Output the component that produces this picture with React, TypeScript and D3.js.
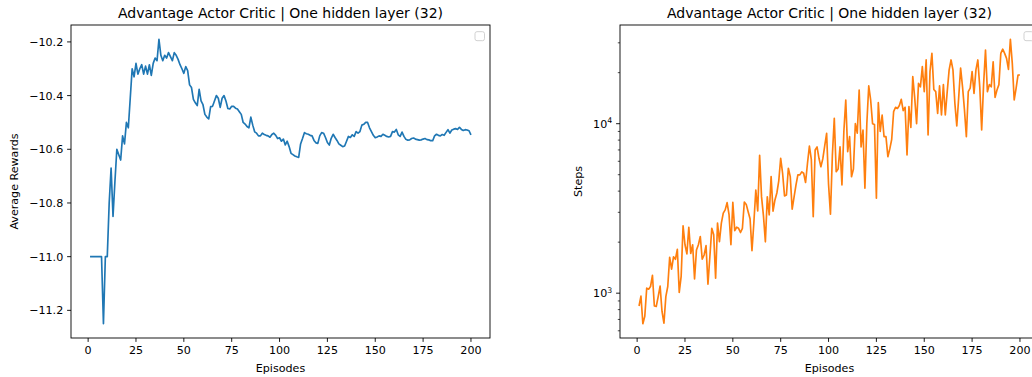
import React from "react";
import * as d3 from "d3";

const TITLE = "Advantage Actor Critic | One hidden layer (32)";

const AVG_REWARDS = [
  -11.0, -11.0, -11.0, -11.0, -11.0, -11.0, -11.0, -11.25, -11.0, -11.0,
  -10.80, -10.67, -10.85, -10.72, -10.60, -10.62, -10.64, -10.55, -10.58, -10.50,
  -10.52, -10.41, -10.30, -10.33, -10.28, -10.32, -10.30, -10.285, -10.32, -10.29,
  -10.32, -10.285, -10.325, -10.28, -10.26, -10.27, -10.19, -10.25, -10.27, -10.25,
  -10.26, -10.24, -10.255, -10.27, -10.24, -10.25, -10.265, -10.285, -10.30, -10.317,
  -10.292, -10.307, -10.36, -10.37, -10.414, -10.427, -10.437, -10.377, -10.42, -10.434,
  -10.47, -10.48, -10.487, -10.441, -10.44, -10.42, -10.40, -10.41, -10.444, -10.41,
  -10.40, -10.42, -10.448, -10.45, -10.44, -10.44, -10.447, -10.45, -10.46, -10.47,
  -10.50, -10.506, -10.515, -10.52, -10.48, -10.51, -10.535, -10.54, -10.55, -10.55,
  -10.54, -10.545, -10.548, -10.55, -10.555, -10.545, -10.54, -10.548, -10.56, -10.557,
  -10.57, -10.562, -10.584, -10.57, -10.59, -10.615, -10.62, -10.625, -10.628, -10.63,
  -10.58, -10.56, -10.538, -10.542, -10.544, -10.548, -10.55, -10.567, -10.576, -10.578,
  -10.55, -10.538, -10.54, -10.556, -10.575, -10.584, -10.559, -10.544, -10.556, -10.567,
  -10.58, -10.585, -10.59, -10.588, -10.57, -10.552, -10.556, -10.546, -10.552, -10.534,
  -10.54, -10.534, -10.51, -10.507, -10.50, -10.50, -10.52, -10.534, -10.548, -10.557,
  -10.554, -10.55, -10.552, -10.544, -10.548, -10.552, -10.554, -10.552, -10.534, -10.536,
  -10.526, -10.546, -10.552, -10.536, -10.552, -10.563, -10.566, -10.565, -10.56, -10.558,
  -10.562, -10.564, -10.566, -10.565, -10.562, -10.56, -10.564, -10.565, -10.568, -10.568,
  -10.55, -10.544, -10.548, -10.55, -10.545, -10.548, -10.537, -10.527, -10.54, -10.528,
  -10.525, -10.523, -10.526, -10.518, -10.526, -10.53, -10.527, -10.528, -10.531, -10.546,
];

const STEPS = [
  840, 960, 660, 730, 1070, 1055, 1095, 1275, 840, 835,
  955, 1100, 780, 665, 955, 1095, 1630, 1385, 1640, 1585,
  1815, 1010, 1255, 2500, 1930, 1705, 2450, 1715, 1930, 1215,
  1800, 1930, 2160, 1585, 1680, 1910, 1130, 1640, 2415, 2210,
  1225, 2590, 2015, 2590, 2965, 3100, 3420, 2920, 1930, 3430,
  2340, 2450, 2415, 2280, 2415, 3450, 3340, 3020, 2750, 1780,
  2620, 4060, 3060, 6500, 3700, 2860, 2010, 3700, 2900, 4870,
  3050, 3550, 3900, 4600, 6250, 5100, 3750, 3800, 5460, 4870,
  3130, 3700, 4350, 5000, 4990, 5200, 5100, 4500, 5840, 7380,
  6165, 2830, 7000, 7300, 6250, 5570, 6200, 7400, 8775, 4400,
  2925, 6500, 10760, 5210, 5400, 7300, 4350, 9000, 13800, 6830,
  8380, 4865, 5400, 10000, 8800, 15800, 7300, 9180, 4160, 10000,
  16700, 13800, 10000, 9900, 3630, 13300, 9000, 11250, 8380, 8380,
  6385, 7100, 8090, 11770, 12500, 12300, 12800, 13930, 11950, 12500,
  6535, 12600, 9500, 18940, 14300, 10000, 17300, 16500, 21700, 15450,
  23770, 8580, 20270, 26000, 15900, 15450, 11500, 16700, 11250, 17000,
  11250, 15450, 20760, 23770, 20760, 13190, 9690, 14300, 21300, 16500,
  12100, 8380, 15450, 16200, 20270, 15100, 20760, 23770, 16500, 9180,
  17000, 27200, 15450, 17000, 16500, 23200, 14300, 15800, 17000, 26000,
  27500, 26000, 24300, 20900, 31500, 22700, 13800, 16200, 19380, 19380,
];

const X_TICKS = [0, 25, 50, 75, 100, 125, 150, 175, 200];
const REWARD_TICKS = [-11.2, -11.0, -10.8, -10.6, -10.4, -10.2];
const STEP_MAJOR_TICKS = [1000, 10000];
const STEP_MINOR_TICKS = [600, 700, 800, 900, 2000, 3000, 4000, 5000, 6000, 7000, 8000, 9000, 20000, 30000];

const FONT = "DejaVu Sans, sans-serif";
const TICK_FS = 11.1;
const TITLE_FS = 14;
const TOP = 25;
const BOTTOM = 338;
const LEFT_AX = { x0: 71, x1: 490 };
const RIGHT_AX = { x0: 620, x1: 1039 };

function pad(ext: [number, number]): [number, number] {
  const m = (ext[1] - ext[0]) * 0.05;
  return [ext[0] - m, ext[1] + m];
}

const fmtMinus = (v: number, digits: number) => {
  const s = v.toFixed(digits);
  return s.replace("-", "\u2212");
};

function XAxis({ x, x0, x1 }: { x: d3.ScaleLinear<number, number>; x0: number; x1: number }) {
  return (
    <g>
      {X_TICKS.map((t) => (
        <g key={t}>
          <line x1={x(t)} x2={x(t)} y1={BOTTOM} y2={BOTTOM + 3.9} stroke="#000" strokeWidth={0.9} />
          <text x={x(t)} y={BOTTOM + 7.8} dy="0.76em" textAnchor="middle" fontSize={TICK_FS} fontFamily={FONT} fill="#000">
            {t}
          </text>
        </g>
      ))}
      <text x={(x0 + x1) / 2} y={372} textAnchor="middle" fontSize={TICK_FS} fontFamily={FONT} fill="#000">
        Episodes
      </text>
    </g>
  );
}

function Frame({ x0, x1 }: { x0: number; x1: number }) {
  return (
    <g>
      <rect x={x0} y={TOP} width={x1 - x0} height={BOTTOM - TOP} fill="none" stroke="#000" strokeWidth={0.9} />
      <text x={(x0 + x1) / 2} y={TOP - 7} textAnchor="middle" fontSize={TITLE_FS} fontFamily={FONT} fill="#000">
        {TITLE}
      </text>
      <rect x={x1 - 15} y={TOP + 6.7} width={9.5} height={9} rx={2} fill="#fff" fillOpacity={0.8} stroke="#cccccc" strokeWidth={0.9} />
    </g>
  );
}

export default function App() {
  const idx = AVG_REWARDS.map((_, i) => i + 1);
  const xDom = pad([idx[0], idx[idx.length - 1]]);

  // Left chart
  const xL = d3.scaleLinear().domain(xDom).range([LEFT_AX.x0, LEFT_AX.x1]);
  const yL = d3.scaleLinear().domain(pad(d3.extent(AVG_REWARDS) as [number, number])).range([BOTTOM, TOP]);
  const lineL = d3
    .line<number>()
    .x((_, i) => xL(i + 1))
    .y((d) => yL(d));

  // Right chart
  const xR = d3.scaleLinear().domain(xDom).range([RIGHT_AX.x0, RIGHT_AX.x1]);
  const ext = d3.extent(STEPS) as [number, number];
  const lext = pad([Math.log10(ext[0]), Math.log10(ext[1])]);
  const yR = d3.scaleLog().domain([Math.pow(10, lext[0]), Math.pow(10, lext[1])]).range([BOTTOM, TOP]);
  const lineR = d3
    .line<number>()
    .x((_, i) => xR(i + 1))
    .y((d) => yR(d));

  return (
    <svg
      width={1032}
      height={377}
      style={{ position: "absolute", left: 0, top: 0, display: "block", background: "#fff" }}
    >
      <rect x={0} y={0} width={1032} height={377} fill="#fff" />
      <defs>
        <clipPath id="clipL">
          <rect x={LEFT_AX.x0} y={TOP} width={LEFT_AX.x1 - LEFT_AX.x0} height={BOTTOM - TOP} />
        </clipPath>
        <clipPath id="clipR">
          <rect x={RIGHT_AX.x0} y={TOP} width={RIGHT_AX.x1 - RIGHT_AX.x0} height={BOTTOM - TOP} />
        </clipPath>
      </defs>
      {/* Left chart */}
      <g>
        <path d={lineL(AVG_REWARDS) || ""} fill="none" stroke="#1f77b4" strokeWidth={1.67} strokeLinejoin="round" clipPath="url(#clipL)" />
        <Frame x0={LEFT_AX.x0} x1={LEFT_AX.x1} />
        <XAxis x={xL} x0={LEFT_AX.x0} x1={LEFT_AX.x1} />
        {REWARD_TICKS.map((t) => (
          <g key={t}>
            <line x1={LEFT_AX.x0 - 3.9} x2={LEFT_AX.x0} y1={yL(t)} y2={yL(t)} stroke="#000" strokeWidth={0.9} />
            <text x={LEFT_AX.x0 - 7.8} y={yL(t)} dy="0.36em" textAnchor="end" fontSize={TICK_FS} fontFamily={FONT} fill="#000">
              {fmtMinus(t, 1)}
            </text>
          </g>
        ))}
        <text
          transform={`translate(18,${(TOP + BOTTOM) / 2}) rotate(-90)`}
          textAnchor="middle"
          fontSize={TICK_FS}
          fontFamily={FONT}
          fill="#000"
        >
          Average Rewards
        </text>
      </g>
      {/* Right chart */}
      <g>
        <path d={lineR(STEPS) || ""} fill="none" stroke="#ff7f0e" strokeWidth={1.67} strokeLinejoin="round" clipPath="url(#clipR)" />
        <Frame x0={RIGHT_AX.x0} x1={RIGHT_AX.x1} />
        <XAxis x={xR} x0={RIGHT_AX.x0} x1={RIGHT_AX.x1} />
        {STEP_MINOR_TICKS.filter((t) => yR(t) >= TOP && yR(t) <= BOTTOM).map((t) => (
          <line key={t} x1={RIGHT_AX.x0 - 2.2} x2={RIGHT_AX.x0} y1={yR(t)} y2={yR(t)} stroke="#000" strokeWidth={0.7} />
        ))}
        {STEP_MAJOR_TICKS.map((t) => (
          <g key={t}>
            <line x1={RIGHT_AX.x0 - 3.9} x2={RIGHT_AX.x0} y1={yR(t)} y2={yR(t)} stroke="#000" strokeWidth={0.9} />
            <text x={RIGHT_AX.x0 - 7.8} y={yR(t)} dy="0.36em" textAnchor="end" fontSize={TICK_FS} fontFamily={FONT} fill="#000">
              10
              <tspan fontSize={TICK_FS * 0.7} dy="-0.55em">
                {Math.round(Math.log10(t))}
              </tspan>
            </text>
          </g>
        ))}
        <text
          transform={`translate(582,${(TOP + BOTTOM) / 2}) rotate(-90)`}
          textAnchor="middle"
          fontSize={TICK_FS}
          fontFamily={FONT}
          fill="#000"
        >
          Steps
        </text>
      </g>
    </svg>
  );
}
